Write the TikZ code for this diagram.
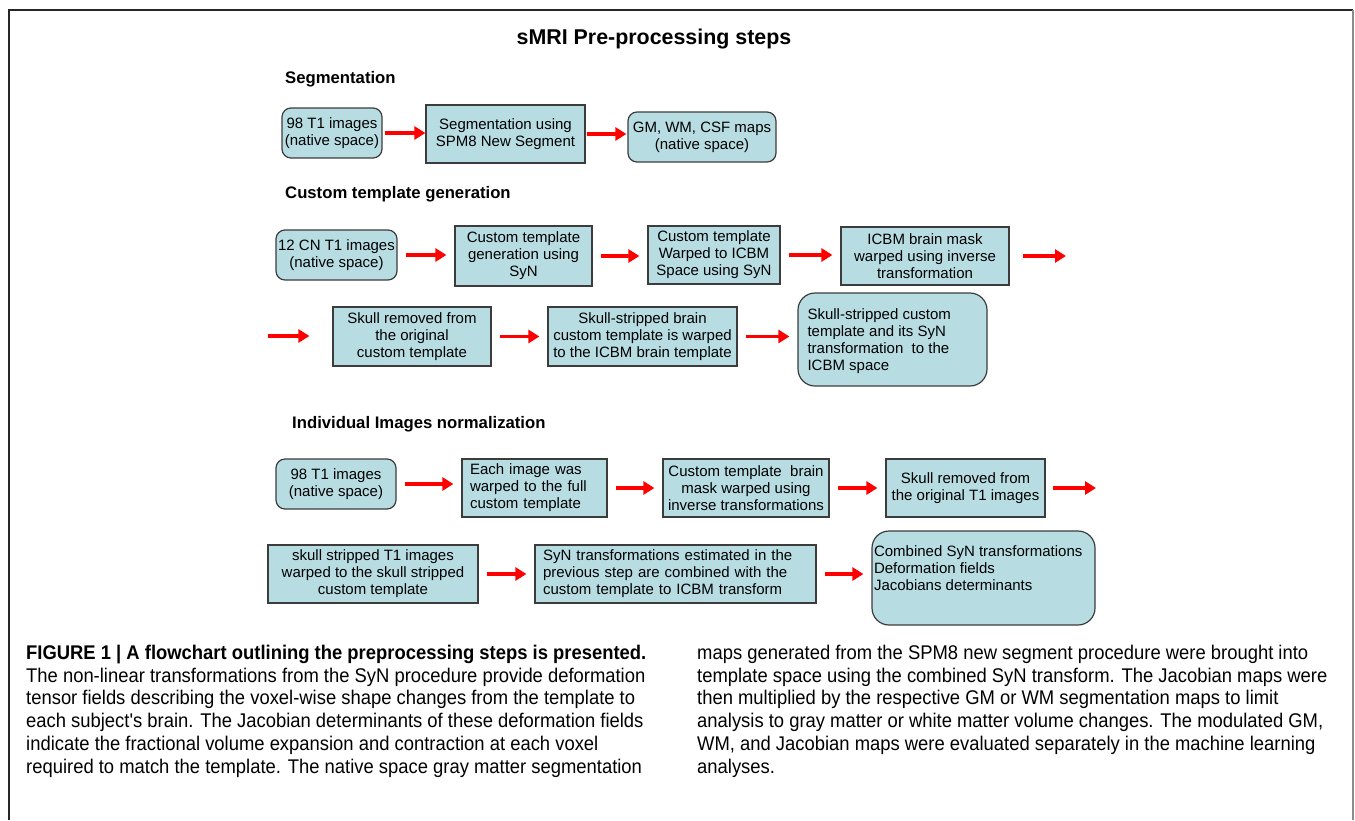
\documentclass[tikz,border=0pt]{standalone}
\usepackage{fontspec}
\setmainfont{Liberation Sans}
\newfontfamily\capfont[FakeStretch=0.93]{Liberation Sans}
\usepackage{tikz}
\usetikzlibrary{arrows.meta,calc}

\definecolor{boxfill}{RGB}{183,221,227}
\definecolor{boxline}{RGB}{60,60,60}

\begin{document}
\begin{tikzpicture}[x=1pt, y=-1pt,
    box/.style = {draw=boxline, fill=boxfill, line width=1.2pt, align=center, inner sep=0pt,
                  font=\fontsize{15}{17}\selectfont},
    rbox/.style = {box, rounded corners=9pt},
    head/.style = {anchor=west, inner sep=0pt, font=\bfseries\fontsize{16.7}{20}\selectfont},
    arr/.style = {draw=red, line width=3.8pt, -{Triangle[length=11pt,width=13pt]},
                  shorten <=8pt, shorten >=8pt},
    capnode/.style = {anchor=north west, align=left, inner sep=0pt,
                      font=\capfont\fontsize{19.8}{22.7}\selectfont}]
    \useasboundingbox (0,0) rectangle (1355,820);
    \draw[line width=1.5pt, black!85] (9,820) -- (9,10) -- (1353,10);
    \draw[line width=1.5pt, black!45] (1353,10) -- (1353,820);

    \node[font=\bfseries\fontsize{21.4}{25}\selectfont] (title) at (654,39) {sMRI Pre-processing steps};

    % segmentation
    \node[head] (hseg) at (285,79) {Segmentation};
    \node[rbox, minimum width=100pt, minimum height=50pt] (s1a) at (332,133) {98 T1 images\\(native space)};
    \node[box, minimum width=159pt, minimum height=58pt] (s1b) at (505.5,134) {Segmentation using\\SPM8 New Segment};
    \node[rbox, minimum width=148pt, minimum height=50pt] (s1c) at (702,137) {GM, WM, CSF maps\\(native space)};
    \draw[arr, shorten <=2pt, shorten >=0pt] (s1a.east) -- (s1a.east -| s1b.west);
    \draw[arr, shorten <=1pt, shorten >=1pt] (s1b.east) -- (s1b.east -| s1c.west);

    % custom template
    \node[head] (htpl) at (285,194) {Custom template generation};
    \node[rbox, minimum width=121pt, minimum height=50pt] (s2a) at (336.5,255) {12 CN T1 images\\(native space)};
    \node[box, minimum width=137pt, minimum height=60pt] (s2b) at (523.5,256) {Custom template\\generation using\\SyN};
    \node[box, minimum width=132pt, minimum height=58pt] (s2c) at (714,255) {Custom template\\Warped to ICBM\\Space using SyN};
    \node[box, minimum width=168pt, minimum height=58pt] (s2d) at (925,256) {ICBM brain mask\\warped using inverse\\transformation};
    \coordinate (c2out) at (1066,256);
    \node[box, minimum width=158pt, minimum height=59pt] (s2e) at (412,336.5) {Skull removed from\\the original\\custom template};
    \node[box, minimum width=189pt, minimum height=59pt] (s2f) at (642.5,336.5) {Skull-stripped brain\\custom template is warped\\to the ICBM brain template};
    \node[rbox, rounded corners=17pt, minimum width=189pt, minimum height=93pt] (s2g) at (892.5,339.5)
        {\begin{minipage}[c][62pt][t]{170pt}\raggedright Skull-stripped custom\\template and its SyN\\transformation\ \ to the\\ICBM space\end{minipage}};
    \coordinate (c2in) at (268,336);
    \draw[arr] (s2a.east) -- (s2a.east -| s2b.west);
    \draw[arr] (s2b.east) -- (s2b.east -| s2c.west);
    \draw[arr] (s2c.east) -- (s2c.east -| s2d.west);
    \draw[arr, shorten <=13pt, shorten >=0pt] (s2d.east) -- (c2out);
    \draw[arr, shorten <=0pt, shorten >=23pt] (c2in) -- (c2in -| s2e.west);
    \draw[arr] (s2e.east) -- (s2e.east -| s2f.west);
    \draw[arr] (s2f.east) -- (s2f.east -| s2g.west);

    % individual images
    \node[head] (hind) at (292,424) {Individual Images normalization};
    \node[rbox, minimum width=120pt, minimum height=50pt] (s3a) at (336,484) {98 T1 images\\(native space)};
    \node[box, align=left, text width=129pt, minimum width=145pt, minimum height=58pt] (s3b) at (534.5,488) {Each image was\\warped to the full\\custom template};
    \node[box, minimum width=166pt, minimum height=58pt] (s3c) at (746,488) {Custom template\ \ brain\\mask warped using\\inverse transformations};
    \node[box, minimum width=159pt, minimum height=58pt] (s3d) at (965.5,488) {Skull removed from\\the original T1 images};
    \coordinate (c3out) at (1096,488);
    \node[box, minimum width=210pt, minimum height=58pt] (s3e) at (373,574) {skull stripped T1 images\\warped to the skull stripped\\custom template};
    \node[box, align=left, text width=265pt, minimum width=281pt, minimum height=58pt] (s3f) at (675.5,574) {SyN transformations estimated in the\\previous step are combined with the\\custom template to ICBM transform};
    \node[rbox, rounded corners=17pt, minimum width=223pt, minimum height=94pt] (s3g) at (983.5,578)
        {\begin{minipage}[c][64pt][t]{219pt}\raggedright Combined SyN transformations\\Deformation fields\\Jacobians determinants\end{minipage}};
    \draw[arr] (s3a.east) -- (s3a.east -| s3b.west);
    \draw[arr] (s3b.east) -- (s3b.east -| s3c.west);
    \draw[arr] (s3c.east) -- (s3c.east -| s3d.west);
    \draw[arr, shorten <=7pt, shorten >=0pt] (s3d.east) -- (c3out);
    \draw[arr] (s3e.east) -- (s3e.east -| s3f.west);
    \draw[arr] (s3f.east) -- (s3f.east -| s3g.west);

    % caption
    \node[capnode] (capl) at (26,645) {{\bfseries FIGURE 1 | A flowchart outlining the preprocessing steps is presented.}\\
        The non-linear transformations from the SyN procedure provide deformation\\
        tensor fields describing the voxel-wise shape changes from the template to\\
        each subject's brain. The Jacobian determinants of these deformation fields\\
        indicate the fractional volume expansion and contraction at each voxel\\
        required to match the template. The native space gray matter segmentation};
    \node[capnode] (capr) at (697,645) {maps generated from the SPM8 new segment procedure were brought into\\
        template space using the combined SyN transform. The Jacobian maps were\\
        then multiplied by the respective GM or WM segmentation maps to limit\\
        analysis to gray matter or white matter volume changes. The modulated GM,\\
        WM, and Jacobian maps were evaluated separately in the machine learning\\
        analyses.};
\end{tikzpicture}
\end{document}
